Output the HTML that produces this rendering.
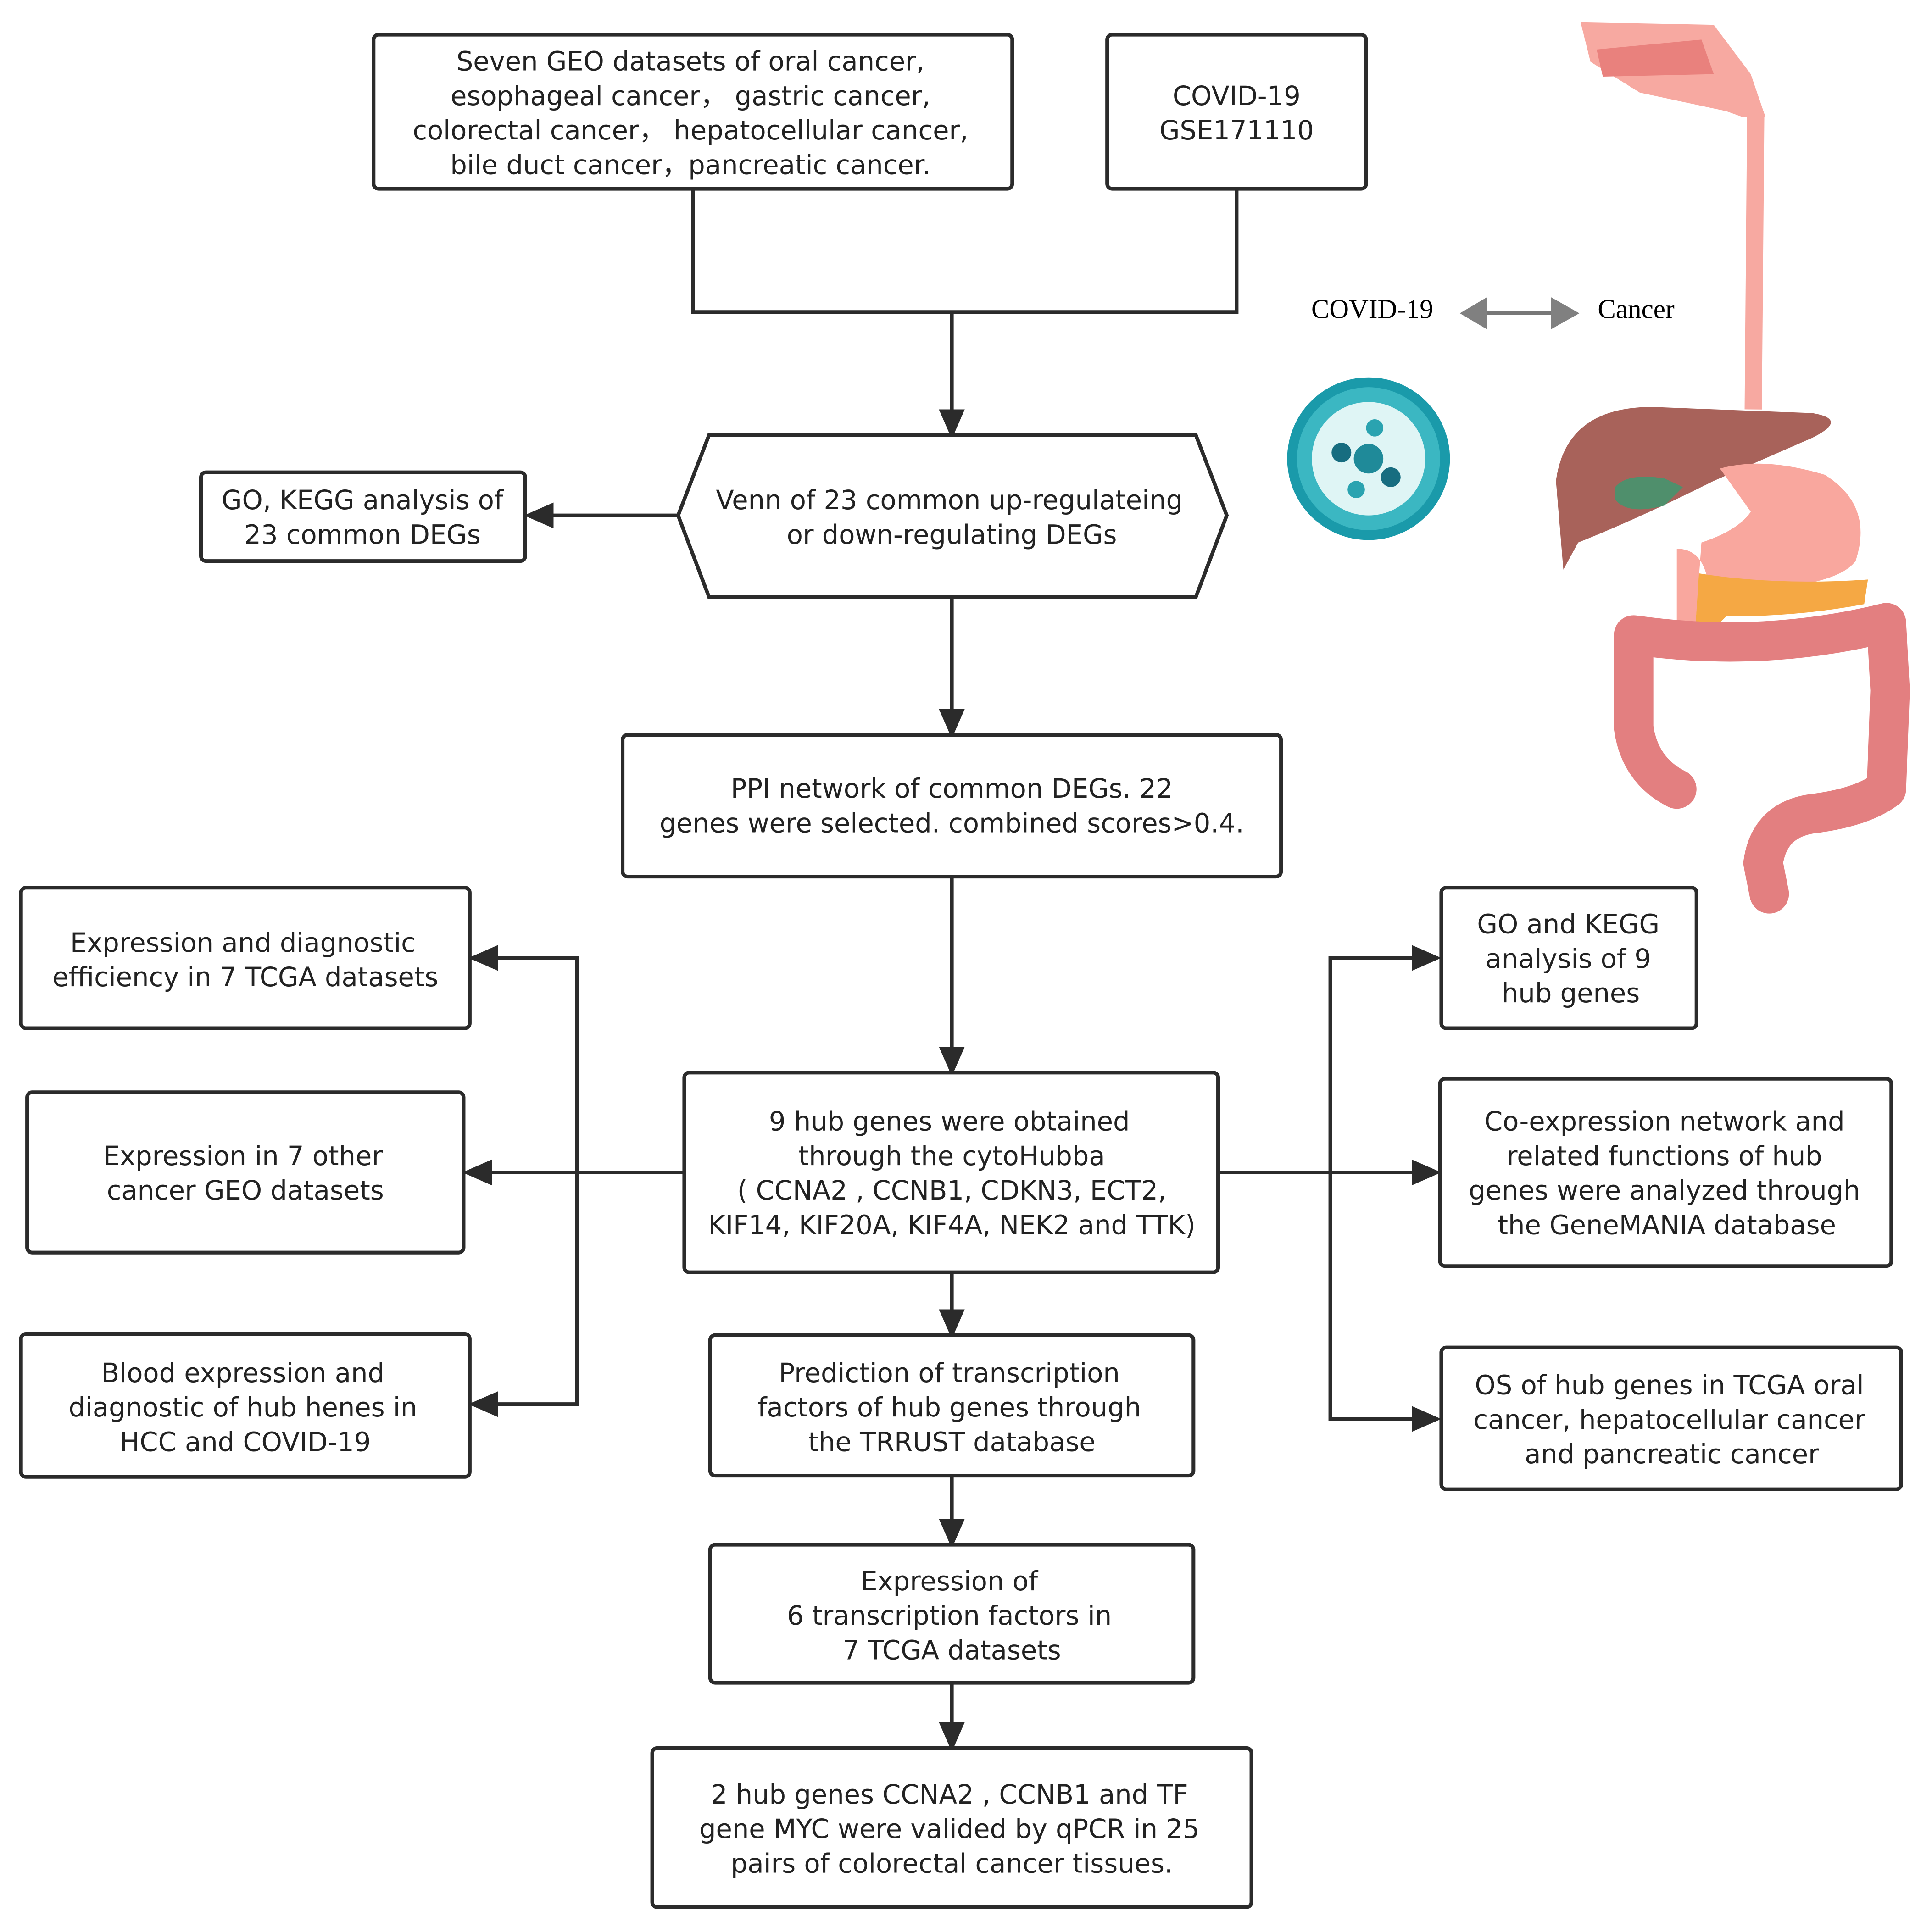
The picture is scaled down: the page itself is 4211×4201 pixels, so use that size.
<!DOCTYPE html>
<html><head><meta charset="utf-8"><style>
html,body{margin:0;padding:0;background:#fff}
svg{display:block}
.b{fill:#fff;stroke:#2b2b2b;stroke-width:3}
.l{fill:none;stroke:#2b2b2b;stroke-width:3}
text{font-family:"DejaVu Sans","Liberation Sans",sans-serif;font-size:21.4px;fill:#222;text-anchor:middle}
</style></head><body>
<svg width="4211" height="4201" viewBox="0 0 1567 1563" xmlns="http://www.w3.org/2000/svg">
<defs><marker id="a" markerWidth="8" markerHeight="8" refX="7" refY="4" orient="auto" markerUnits="strokeWidth"><path d="M0,0.5 L8,4 L0,7.5z" fill="#2b2b2b"/></marker></defs>
<rect class="b" x="303" y="28" width="518" height="125" rx="4"/>
<text x="560" y="57">Seven GEO datasets of oral cancer,</text>
<text x="560" y="85">esophageal cancer，  gastric cancer,</text>
<text x="560" y="113">colorectal cancer，  hepatocellular cancer,</text>
<text x="560" y="141">bile duct cancer，pancreatic cancer.</text>
<rect class="b" x="898" y="28" width="210" height="125" rx="4"/>
<text x="1003" y="85">COVID-19</text>
<text x="1003" y="113">GSE171110</text>
<path class="l" d="M562,153 V253 H1003 V153"/>
<path class="l" d="M772,253 V353" marker-end="url(#a)"/>
<polygon class="b" points="550,418 575,353 970,353 995,418 970,484 575,484"/>
<text x="770" y="413">Venn of 23 common up-regulateing</text>
<text x="772" y="441">or down-regulating DEGs</text>
<rect class="b" x="163" y="383" width="263" height="72" rx="4"/>
<text x="294" y="413">GO, KEGG analysis of</text>
<text x="294" y="441">23 common DEGs</text>
<path class="l" d="M550,418 H428" marker-end="url(#a)"/>
<path class="l" d="M772,484 V596" marker-end="url(#a)"/>
<rect class="b" x="505" y="596" width="534" height="115" rx="4"/>
<text x="772" y="647">PPI network of common DEGs. 22</text>
<text x="772" y="675">genes were selected. combined scores&gt;0.4.</text>
<path class="l" d="M772,711 V870" marker-end="url(#a)"/>
<rect class="b" x="555" y="870" width="433" height="162" rx="4"/>
<text x="770" y="917">9 hub genes were obtained</text>
<text x="772" y="945">through the cytoHubba</text>
<text x="772" y="973">( CCNA2 , CCNB1, CDKN3, ECT2,</text>
<text x="772" y="1001">KIF14, KIF20A, KIF4A, NEK2 and TTK)</text>
<path class="l" d="M555,951 H378" marker-end="url(#a)"/>
<path class="l" d="M381,777 H468 V1139 H383" marker-end="url(#a)"/>
<path class="l" d="M468,777 H383" marker-end="url(#a)"/>
<rect class="b" x="17" y="720" width="364" height="114" rx="4"/>
<text x="197" y="772">Expression and diagnostic</text>
<text x="199" y="800">efficiency in 7 TCGA datasets</text>
<rect class="b" x="22" y="886" width="354" height="130" rx="4"/>
<text x="197" y="945">Expression in 7 other</text>
<text x="199" y="973">cancer GEO datasets</text>
<rect class="b" x="17" y="1082" width="364" height="116" rx="4"/>
<text x="197" y="1121">Blood expression and</text>
<text x="197" y="1149">diagnostic of hub henes in</text>
<text x="199" y="1177">HCC and COVID-19</text>
<path class="l" d="M988,951 H1166" marker-end="url(#a)"/>
<path class="l" d="M1166,777 H1079 V1151 H1166" marker-end="url(#a)"/>
<path class="l" d="M1079,777 H1166" marker-end="url(#a)"/>
<rect class="b" x="1169" y="720" width="207" height="114" rx="4"/>
<text x="1272" y="757">GO and KEGG</text>
<text x="1272" y="785">analysis of 9</text>
<text x="1274" y="813">hub genes</text>
<rect class="b" x="1168" y="875" width="366" height="152" rx="4"/>
<text x="1350" y="917">Co-expression network and</text>
<text x="1350" y="945">related functions of hub</text>
<text x="1350" y="973">genes were analyzed through</text>
<text x="1352" y="1001">the GeneMANIA database</text>
<rect class="b" x="1169" y="1093" width="373" height="115" rx="4"/>
<text x="1354" y="1131">OS of hub genes in TCGA oral</text>
<text x="1354" y="1159">cancer, hepatocellular cancer</text>
<text x="1356" y="1187">and pancreatic cancer</text>
<path class="l" d="M772,1032 V1083" marker-end="url(#a)"/>
<rect class="b" x="576" y="1083" width="392" height="114" rx="4"/>
<text x="770" y="1121">Prediction of transcription</text>
<text x="770" y="1149">factors of hub genes through</text>
<text x="772" y="1177">the TRRUST database</text>
<path class="l" d="M772,1197 V1253" marker-end="url(#a)"/>
<rect class="b" x="576" y="1253" width="392" height="112" rx="4"/>
<text x="770" y="1290">Expression of</text>
<text x="770" y="1318">6 transcription factors in</text>
<text x="772" y="1346">7 TCGA datasets</text>
<path class="l" d="M772,1365 V1418" marker-end="url(#a)"/>
<rect class="b" x="529" y="1418" width="486" height="129" rx="4"/>
<text x="770" y="1463">2 hub genes CCNA2 , CCNB1 and TF</text>
<text x="770" y="1491">gene MYC were valided by qPCR in 25</text>
<text x="772" y="1519">pairs of colorectal cancer tissues.</text>
<text x="1113" y="258" style="font-family:'Liberation Serif',serif;font-size:22px;fill:#000">COVID-19</text>
<text x="1327" y="258" style="font-family:'Liberation Serif',serif;font-size:22px;fill:#000">Cancer</text>
<path d="M1196,254 H1268" stroke="#777" stroke-width="3"/>
<polygon points="1184,254 1206,241 1206,267" fill="#808080"/>
<polygon points="1281,254 1258,241 1258,267" fill="#808080"/>
<g transform="translate(1110,372)">
<circle r="66" fill="#1a9aaa"/>
<circle r="58" fill="#3bb7c2"/>
<circle r="46" fill="#dff5f5"/>
<circle r="12" fill="#1f8a99"/><circle cx="-22" cy="-5" r="8" fill="#176d80"/><circle cx="18" cy="15" r="8" fill="#176d80"/><circle cx="5" cy="-25" r="7" fill="#2aa3b0"/><circle cx="-10" cy="25" r="7" fill="#2aa3b0"/>
</g>
<path d="M1282,18 L1390,20 L1420,60 L1432,95 L1414,95 L1400,90 L1330,75 L1290,50 Z" fill="#f7a9a1"/>
<path d="M1295,40 L1380,32 L1390,60 L1300,62 Z" fill="#e9817d"/>
<path d="M1424,95 L1422,332" stroke="#f7a9a1" stroke-width="14" fill="none"/>
<path d="M1262,390 Q1270,330 1340,330 L1470,335 Q1500,340 1470,355 L1390,390 Q1330,420 1280,440 L1268,462 Z" fill="#a8625a"/>
<path d="M1310,395 Q1320,383 1350,388 L1365,395 L1350,410 Q1320,418 1310,405Z" fill="#4f8f6c"/>
<path d="M1395,380 Q1430,370 1480,385 Q1520,410 1505,455 Q1490,475 1420,478 L1385,470 Q1380,445 1360,445 L1360,510 L1375,510 L1380,440 Q1410,430 1420,415 Z" fill="#f9a79e"/>
<path d="M1378,465 Q1440,475 1515,470 L1512,490 Q1460,500 1400,500 L1385,515 L1375,510 Z" fill="#f5a844"/>
<path d="M1360,640 Q1330,625 1325,590 L1325,515 Q1430,530 1530,505 L1533,560 L1530,640 Q1510,655 1470,660 Q1435,665 1430,700 L1435,725" stroke="#e37f80" stroke-width="32" fill="none" stroke-linecap="round" stroke-linejoin="round"/>
</svg>
</body></html>
